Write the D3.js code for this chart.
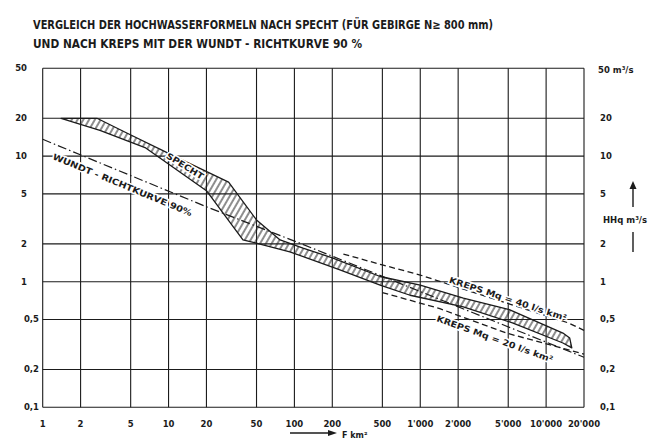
<!DOCTYPE html>
<html>
<head>
<meta charset="utf-8">
<script src="https://cdn.jsdelivr.net/npm/d3@7"></script>
<style>
  body { margin: 0; background: #fff; }
  text { font-family: "DejaVu Sans", sans-serif; fill: #1b1b1b; font-weight: bold; }
</style>
</head>
<body>
<svg id="chart" width="660" height="439"></svg>
<script>
// axis ticks
var xTicks = [1, 2, 5, 10, 20, 50, 100, 200, 500, 1000, 2000, 5000, 10000, 20000]
var xTickLabels = ["1", "2", "5", "10", "20", "50", "100", "200", "500", "1'000", "2'000", "5'000", "10'000", "20'000"]
var yTicks = [0.1, 0.2, 0.5, 1, 2, 5, 10, 20, 50]
var yTickLabels = ["0,1", "0,2", "0,5", "1", "2", "5", "10", "20", "50"]
var yRightLabels = ["0,1", "0,2", "0,5", "1", "2", "5", "10", "20", "50 m³/s"]

// Specht band (upper and lower edge), F km2 / HHq m3/s
var spechtUpperF = [1.4, 2.7, 4.7, 10, 30, 50, 77, 117, 200, 480, 1000, 2200, 5100, 13600, 15400]
var spechtUpperQ = [20, 20, 15.2, 10.5, 6.2, 3.1, 2.15, 1.85, 1.55, 1.1, 0.94, 0.74, 0.6, 0.39, 0.356]
var spechtLowerF = [1.4, 2.85, 6.5, 20, 39, 48, 92, 230, 480, 830, 2200, 5400, 13600, 16000]
var spechtLowerQ = [20, 16, 11.7, 5.3, 2.15, 2.05, 1.73, 1.24, 0.94, 0.78, 0.63, 0.47, 0.325, 0.297]

// Wundt-Richtkurve 90 %
var wundtF = [1, 20, 110, 20000]
var wundtQ = [13.6, 3.95, 2.03, 0.25]

// Kreps Mq = 40 and Mq = 20 l/s km2
var kreps40F = [245, 500, 1000, 2000, 15000, 20000]
var kreps40Q = [1.66, 1.36, 1.13, 0.9, 0.47, 0.41]
var kreps20F = [500, 1430, 4840, 20000]
var kreps20Q = [0.82, 0.61, 0.39, 0.265]

var svg = d3.select("#chart")
var ink = "#1b1b1b"

var x = d3.scaleLog().domain([1, 20000]).range([42.7, 584])
var y = d3.scaleLog().domain([0.1, 50]).range([407.3, 68.3])

// title
svg.append("text").attr("x", 33).attr("y", 29)
  .attr("font-size", 12)
  .attr("textLength", 460).attr("lengthAdjust", "spacingAndGlyphs")
  .text("VERGLEICH  DER  HOCHWASSERFORMELN  NACH  SPECHT  (FÜR  GEBIRGE  N≥ 800 mm)")
svg.append("text").attr("x", 33).attr("y", 48)
  .attr("font-size", 12)
  .attr("textLength", 329).attr("lengthAdjust", "spacingAndGlyphs")
  .text("UND  NACH  KREPS  MIT  DER  WUNDT - RICHTKURVE  90 %")

// hatch pattern for the band
var defs = svg.append("defs")
defs.append("pattern")
  .attr("id", "hatch")
  .attr("patternUnits", "userSpaceOnUse")
  .attr("width", 5).attr("height", 5)
  .attr("patternTransform", "rotate(30)")
  .append("line")
  .attr("x1", 2).attr("y1", 0).attr("x2", 2).attr("y2", 5)
  .attr("stroke", ink).attr("stroke-width", 1)

// grid
var grid = svg.append("g")
grid.selectAll("line.v").data(xTicks).enter().append("line")
  .attr("x1", d => x(d)).attr("x2", d => x(d))
  .attr("y1", y(50)).attr("y2", y(0.1))
  .attr("stroke", ink).attr("stroke-width", 1.1)
grid.selectAll("line.h").data(yTicks).enter().append("line")
  .attr("x1", x(1)).attr("x2", x(20000))
  .attr("y1", d => y(d)).attr("y2", d => y(d))
  .attr("stroke", ink).attr("stroke-width", 1.1)

// tick labels
svg.append("g").selectAll("text").data(xTicks).enter().append("text")
  .attr("x", d => x(d)).attr("y", 427)
  .attr("text-anchor", "middle").attr("font-size", 8.5)
  .text((d, i) => xTickLabels[i])
svg.append("g").selectAll("text").data(yTicks).enter().append("text")
  .attr("x", d => d < 1 ? 39 : 27).attr("y", d => y(d))
  .attr("dy", "0.35em").attr("text-anchor", "end").attr("font-size", 8.5)
  .text((d, i) => yTickLabels[i])
svg.append("g").selectAll("text").data(yTicks).enter().append("text")
  .attr("x", d => d == 50 ? 598 : 600).attr("y", d => y(d) + (d == 50 ? 2 : 0))
  .attr("dy", "0.35em").attr("font-size", 8.5)
  .text((d, i) => yRightLabels[i])

// HHq label with arrow
svg.append("text").attr("x", 603).attr("y", 220).attr("dy", "0.35em")
  .attr("font-size", 8.5).text("HHq m³/s")
svg.append("line").attr("x1", 633).attr("x2", 633).attr("y1", 207).attr("y2", 186)
  .attr("stroke", ink).attr("stroke-width", 1.4)
svg.append("path").attr("d", "M629.5,189 L633,181 L636.5,189 Z").attr("fill", ink)
svg.append("line").attr("x1", 633).attr("x2", 633).attr("y1", 232).attr("y2", 252)
  .attr("stroke", ink).attr("stroke-width", 1.4)

// F km2 label with arrow
svg.append("line").attr("x1", 290).attr("x2", 330).attr("y1", 433).attr("y2", 433)
  .attr("stroke", ink).attr("stroke-width", 1.4)
svg.append("path").attr("d", "M328,430 L337,433 L328,436 Z").attr("fill", ink)
svg.append("text").attr("x", 342).attr("y", 437.5).attr("font-size", 8).text("F  km²")

// band
var line = d3.line().x(d => x(d[0])).y(d => y(d[1]))
var upper = spechtUpperF.map((f, i) => [f, spechtUpperQ[i]])
var lower = spechtLowerF.map((f, i) => [f, spechtLowerQ[i]])
var band = upper.concat(lower.slice().reverse())
svg.append("path")
  .attr("d", line(band) + "Z")
  .attr("fill", "url(#hatch)")
  .attr("stroke", ink).attr("stroke-width", 1.3)
  .attr("stroke-linejoin", "round")

// Wundt line (dash-dot)
svg.append("path")
  .attr("d", line(wundtF.map((f, i) => [f, wundtQ[i]])))
  .attr("fill", "none").attr("stroke", ink).attr("stroke-width", 1.2)
  .attr("stroke-dasharray", "9,3,1.5,3")

// Kreps lines (dashed)
svg.append("path")
  .attr("d", line(kreps40F.map((f, i) => [f, kreps40Q[i]])))
  .attr("fill", "none").attr("stroke", ink).attr("stroke-width", 1.3)
  .attr("stroke-dasharray", "6,3.5")
svg.append("path")
  .attr("d", line(kreps20F.map((f, i) => [f, kreps20Q[i]])))
  .attr("fill", "none").attr("stroke", ink).attr("stroke-width", 1.3)
  .attr("stroke-dasharray", "6,3.5")

// curve labels
function curveLabel(f, q, angle, len, txt) {
  svg.append("text")
    .attr("transform", "translate(" + x(f) + "," + y(q) + ") rotate(" + angle + ")")
    .attr("text-anchor", "middle").attr("dy", "0.35em")
    .attr("font-size", 8.5)
    .attr("textLength", len).attr("lengthAdjust", "spacingAndGlyphs")
    .attr("stroke", "#fff").attr("stroke-width", 3).attr("paint-order", "stroke")
    .text(txt)
}
curveLabel(13.5, 8.34, 32, 42, "SPECHT")
curveLabel(4.3, 5.9, 22.5, 150, "WUNDT - RICHTKURVE 90%")
curveLabel(4970, 0.73, 18.2, 123, "KREPS  Mq = 40 l/s km²")
curveLabel(3910, 0.35, 19.7, 123, "KREPS  Mq = 20 l/s km²")
</script>
</body>
</html>
